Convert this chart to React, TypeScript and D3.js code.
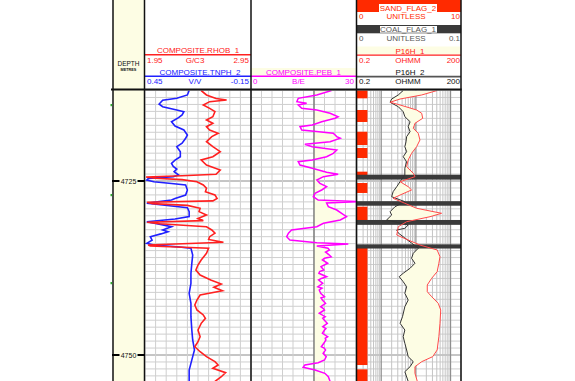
import React from "react";
import * as d3 from "d3";

type P = [number, number];

// depth (m), value
const rhob: P[] = [[4712.0,2.48],[4712.64,2.53],[4713.15,2.62],[4713.36,2.72],[4713.6,2.56],[4714.08,2.5],[4714.56,2.56],[4715.04,2.61],[4715.76,2.59],[4716.24,2.53],[4716.71,2.59],[4717.2,2.53],[4717.67,2.56],[4718.15,2.64],[4718.63,2.58],[4719.35,2.53],[4720.07,2.59],[4720.79,2.66],[4721.51,2.59],[4721.98,2.48],[4722.7,2.53],[4723.42,2.66],[4724.04,2.62],[4724.25,2.3],[4724.43,1.96],[4724.6,2.05],[4724.8,2.3],[4725.1,2.44],[4725.57,2.5],[4726.05,2.53],[4726.53,2.52],[4727.01,2.61],[4727.5,2.63],[4727.85,2.59],[4728.06,1.97],[4728.25,2.02],[4728.5,2.35],[4728.92,2.47],[4729.4,2.46],[4729.89,2.53],[4730.4,2.45],[4730.7,2.5],[4730.93,1.97],[4731.15,2.09],[4731.57,2.53],[4732.04,2.58],[4732.5,2.61],[4733.0,2.56],[4733.4,2.55],[4733.8,2.69],[4734.2,1.98],[4734.34,2.0],[4734.67,2.55],[4735.39,2.53],[4736.35,2.48],[4737.07,2.45],[4737.79,2.43],[4738.51,2.47],[4739.22,2.57],[4739.8,2.67],[4740.27,2.6],[4740.76,2.68],[4741.38,2.47],[4742.1,2.44],[4742.82,2.42],[4743.53,2.44],[4744.25,2.5],[4744.73,2.52],[4745.45,2.48],[4746.41,2.45],[4747.37,2.47],[4748.09,2.45],[4748.81,2.42],[4749.53,2.47],[4750.24,2.53],[4750.96,2.61],[4751.44,2.64],[4751.92,2.59],[4752.54,2.71],[4753.12,2.67],[4753.8,2.61]];

const tnph: P[] = [[4712.0,0.2],[4712.64,0.21],[4713.12,0.27],[4713.4,0.35],[4713.94,0.37],[4714.32,0.35],[4714.8,0.27],[4715.04,0.23],[4715.5,0.24],[4715.9,0.26],[4716.48,0.3],[4717.1,0.28],[4717.67,0.23],[4718.39,0.21],[4718.87,0.22],[4719.58,0.24],[4720.07,0.27],[4720.79,0.25],[4721.51,0.25],[4722.0,0.28],[4722.46,0.3],[4722.9,0.29],[4723.3,0.27],[4723.66,0.285],[4724.14,0.26],[4724.38,0.29],[4724.62,0.43],[4724.86,0.44],[4725.1,0.4],[4725.35,0.3],[4725.57,0.22],[4726.29,0.21],[4727.01,0.22],[4727.5,0.28],[4727.73,0.3],[4727.97,0.38],[4728.2,0.44],[4728.45,0.35],[4728.83,0.21],[4729.4,0.2],[4730.1,0.2],[4730.45,0.28],[4730.85,0.44],[4731.2,0.37],[4731.57,0.3],[4732.04,0.35],[4732.3,0.32],[4732.6,0.36],[4733.0,0.42],[4733.5,0.41],[4733.95,0.44],[4734.2,0.4],[4734.44,0.27],[4734.67,0.19],[4735.63,0.18],[4736.83,0.185],[4738.27,0.19],[4739.7,0.19],[4741.14,0.2],[4742.58,0.19],[4744.49,0.19],[4746.41,0.185],[4747.84,0.18],[4749.28,0.17],[4750.24,0.18],[4751.2,0.19],[4752.16,0.2],[4753.11,0.2],[4753.8,0.2]];

const pef: P[] = [[4712.0,23.0],[4712.64,18.8],[4713.12,13.5],[4713.61,13.1],[4713.84,15.9],[4714.08,13.5],[4714.55,14.5],[4714.8,18.8],[4715.27,22.6],[4715.76,24.9],[4715.99,24.0],[4716.48,20.2],[4716.95,17.5],[4717.2,14.0],[4717.67,14.5],[4718.15,23.5],[4718.63,24.5],[4718.86,25.5],[4719.35,22.6],[4719.73,15.4],[4720.07,17.5],[4720.55,24.5],[4721.02,23.5],[4721.51,21.6],[4721.98,17.5],[4722.23,13.5],[4722.7,14.0],[4723.18,17.5],[4723.75,21.6],[4724.04,24.9],[4724.38,20.7],[4724.86,18.8],[4725.33,19.7],[4725.82,21.6],[4726.29,20.2],[4726.77,18.3],[4727.26,17.8],[4727.73,19.2],[4727.97,31],[4728.16,21.6],[4728.69,22.1],[4729.17,24.5],[4729.64,25.9],[4730.13,27.3],[4730.6,25.5],[4731.08,20.7],[4731.57,18.8],[4732.04,11.6],[4732.51,10.7],[4733.0,10.2],[4733.48,11.1],[4733.86,18.8],[4734.05,27.8],[4734.34,18.8],[4734.67,22.0],[4734.91,22.4],[4735.2,21.3],[4735.39,21.8],[4735.88,22.9],[4736.1,21.0],[4736.35,20.4],[4736.82,21.9],[4737.0,21.2],[4737.31,20.0],[4737.79,20.8],[4738.0,19.6],[4738.26,19.4],[4738.75,21.6],[4739.0,20.1],[4739.22,19.3],[4739.7,20.5],[4740.19,19.1],[4740.4,20.3],[4740.66,19.5],[4741.14,19.9],[4741.62,21.0],[4741.8,20.0],[4742.1,20.4],[4742.57,21.3],[4743.06,19.9],[4743.3,20.6],[4743.53,21.0],[4744.01,19.5],[4744.5,21.2],[4744.7,20.5],[4744.97,20.9],[4745.45,21.8],[4745.93,20.5],[4746.2,21.4],[4746.41,21.0],[4746.88,20.4],[4747.37,21.9],[4747.6,21.2],[4747.84,21.4],[4748.32,20.8],[4748.81,20.1],[4749.0,20.9],[4749.28,21.3],[4749.76,20.6],[4750.24,21.5],[4750.72,21.0],[4751.1,19.2],[4751.44,15.4],[4751.77,14.9],[4752.16,18.3],[4752.63,21.1],[4753.12,22.1],[4753.8,22.6]];
const pefCutoff = 18;

const p16h1: P[] = [[4712.0,41],[4712.64,14.7],[4713.22,3.5],[4713.69,1.8],[4714.08,3.5],[4714.8,10.5],[4715.27,14.7],[4715.99,15.7],[4716.71,9.4],[4717.43,8.4],[4718.15,11.7],[4719.11,13.1],[4720.07,10.5],[4721.02,7.5],[4721.98,6.0],[4722.95,5.4],[4723.89,8.4],[4724.38,9.4],[4725.1,3.5],[4725.82,6.0],[4726.29,7.5],[4727.01,3.5],[4727.49,2.2],[4728.2,4.8],[4728.92,10.5],[4729.64,55],[4730.13,25.5],[4730.85,5.4],[4731.57,3.1],[4732.04,3.0],[4732.76,2.8],[4733.48,6.0],[4734.2,13.1],[4734.91,41],[4735.88,49.5],[4736.82,46],[4738.03,41],[4738.98,28.5],[4739.94,21.3],[4740.91,21.3],[4741.62,28.5],[4742.57,44],[4743.53,52],[4745.45,49.5],[4747.37,46],[4749.28,41],[4750.24,30.5],[4750.96,14.7],[4751.68,9.4],[4752.63,9.4],[4753.8,11]];

const p16h2: P[] = [[4712.0,4.3],[4712.64,3.1],[4713.22,2.0],[4713.69,1.8],[4714.32,3.1],[4715.04,4.3],[4715.76,4.8],[4716.48,6.8],[4717.2,6.0],[4717.92,6.8],[4718.63,5.4],[4719.35,5.2],[4720.07,4.8],[4720.79,5.4],[4721.51,4.3],[4722.23,5.4],[4723.18,4.8],[4724.14,4.8],[4725.1,3.5],[4725.82,2.8],[4726.54,2.2],[4727.26,2.0],[4727.97,4.8],[4728.69,2.5],[4729.41,1.8],[4729.89,2.0],[4730.6,1.43],[4731.32,6.0],[4731.8,4.8],[4732.04,2.8],[4732.47,3.1],[4733.19,4.8],[4733.91,7.5],[4734.67,11.7],[4735.39,8.4],[4736.11,7.5],[4736.82,9.4],[4737.54,6.8],[4738.26,4.3],[4738.75,3.3],[4739.47,4.3],[4740.19,5.4],[4741.14,4.8],[4742.1,6.0],[4743.06,4.8],[4744.5,4.1],[4745.45,3.5],[4746.41,4.8],[4747.37,4.3],[4748.32,4.8],[4749.28,5.4],[4750.24,6.0],[4750.96,8.4],[4751.68,6.8],[4752.4,4.8],[4753.8,6.0]];

// flag intervals [top, base, value]
const sandFlag: [number, number, number][] = [[4711.5,4713.12,1],[4714.8,4716.52,1],[4717.92,4719.83,1],[4720.26,4721.7,1],[4723.66,4724.24,1],[4725.29,4726.72,1],[4728.69,4730.9,1],[4734.48,4751.44,1],[4752.06,4754.5,1]];
const coalFlag: [number, number, number][] = [[4724.1,4724.8,1],[4727.9,4728.55,1],[4730.6,4731.3,1],[4734.1,4734.7,1]];

const depthLabels = [4725, 4750];
const markerDepths = [4714.08, 4727.01, 4739.66];

const FONT = "'Liberation Sans', Arial, sans-serif";
const RED = "#ff2020";
const BLUE = "#2020ff";
const MAG = "#ff00ff";
const CREAM = "#fdfde4";
const SANDC = "#ff2a00";
const COALC = "#3a3a3a";

export default function App() {
  const top = 90.5, bottom = 381;
  const yS = d3.scaleLinear().domain([4725, 4750]).range([181, 355]);
  const T1: [number, number] = [145, 251];
  const T2: [number, number] = [251, 356];
  const T3: [number, number] = [357, 461];
  const xRhob = d3.scaleLinear().domain([1.95, 2.95]).range(T1);
  const xTnph = d3.scaleLinear().domain([0.45, -0.15]).range(T1);
  const xPef = d3.scaleLinear().domain([0, 30]).range(T2);
  const xRes = d3.scaleLog().domain([0.2, 200]).range(T3);
  const xSand = d3.scaleLinear().domain([0, 10]).range(T3);
  const xCoal = d3.scaleLinear().domain([0, 0.1]).range(T3).clamp(true);

  const dMin = yS.invert(top), dMax = yS.invert(bottom);
  const gridDepths = d3.range(Math.ceil(dMin), Math.floor(dMax) + 1);

  const mkLine = (xs: (v: number) => number) =>
    d3.line<P>().x(d => xs(d[1])).y(d => yS(d[0]));

  const pefFill = d3.area<P>().y(d => yS(d[0])).x0(T2[0]).x1(d => xPef(d[1]))(pef) || "";
  const blackRight = d3.area<P>().y(d => yS(d[0])).x0(d => xRes(d[1])).x1(T3[1])(p16h2) || "";
  const redFill = d3.area<P>().y(d => yS(d[0])).x0(T3[0]).x1(d => xRes(d[1]))(p16h1) || "";

  const t1Ticks = d3.range(0, 11).map(i => 1.95 + i * 0.1);
  const t2Ticks = d3.range(0, 31, 3);
  const t3Ticks = xRes.ticks();

  const txt = (x: number, y: number, s: string, fill: string, anchor: string = "middle", size = 8) => (
    <text x={x} y={y} fill={fill} fontSize={size} fontFamily={FONT} textAnchor={anchor as any}>{s}</text>
  );

  const c1 = (T1[0] + T1[1]) / 2, c2 = (T2[0] + T2[1]) / 2, c3 = (T3[0] + T3[1]) / 2;

  return (
    <svg width={575} height={381} style={{ position: "absolute", left: 0, top: 0, background: "#fff" }}>
      <defs>
        <clipPath id="ct1"><rect x={T1[0]} y={top} width={T1[1] - T1[0]} height={bottom - top} /></clipPath>
        <clipPath id="ct2"><rect x={T2[0]} y={top} width={T2[1] - T2[0]} height={bottom - top} /></clipPath>
        <clipPath id="ct3"><rect x={T3[0]} y={top} width={T3[1] - T3[0]} height={bottom - top} /></clipPath>
        <clipPath id="cPefCut"><rect x={xPef(pefCutoff)} y={top} width={T2[1] - xPef(pefCutoff)} height={bottom - top} /></clipPath>
        <clipPath id="cBlackRight"><path d={blackRight} /></clipPath>
      </defs>
      <rect x={0} y={0} width={575} height={381} fill="#fff" />
      {/* depth track */}
      <rect x={113} y={0} width={31.5} height={381} fill={CREAM} />

      {/* ===== header ===== */}
      {txt(c1, 53, "COMPOSITE.RHOB_1", RED)}
      <line x1={T1[0]} x2={T1[1]} y1={54.8} y2={54.8} stroke={RED} strokeWidth={1.5} />
      {txt(T1[0] + 2, 63, "1.95", RED, "start")}
      {txt(c1 - 3, 63, "G/C3", RED)}
      {txt(T1[1] - 2, 63, "2.95", RED, "end")}
      {txt(c1 + 2, 74.5, "COMPOSITE.TNPH_2", BLUE)}
      <line x1={T1[0]} x2={T1[1]} y1={76.3} y2={76.3} stroke={BLUE} strokeWidth={1.5} />
      {txt(T1[0] + 2, 84, "0.45", BLUE, "start")}
      {txt(c1 - 3, 84, "V/V", BLUE)}
      {txt(T1[1] - 2, 84, "-0.15", BLUE, "end")}

      <rect x={T2[0]} y={68} width={T2[1] - T2[0]} height={8} fill={CREAM} />
      {txt(c2, 74.5, "COMPOSITE.PEB_1", MAG)}
      <line x1={T2[0]} x2={T2[1]} y1={76.3} y2={76.3} stroke={MAG} strokeWidth={1.5} />
      {txt(T2[0] + 2, 84, "0", MAG, "start")}
      {txt(c2 - 5, 84, "B/E", MAG)}
      {txt(T2[1] - 2, 84, "30", MAG, "end")}

      <rect x={T3[0]} y={0} width={T3[1] - T3[0]} height={12} fill={SANDC} />
      <rect x={379} y={4} width={58} height={8} fill="#fff" />
      {txt(408, 10.8, "SAND_FLAG_2", SANDC)}
      {txt(T3[0] + 2, 19, "0", SANDC, "start")}
      {txt(c3 - 3, 19, "UNITLESS", SANDC)}
      {txt(T3[1] - 1, 19, "10", SANDC, "end")}
      <rect x={T3[0]} y={25} width={T3[1] - T3[0]} height={8.3} fill={COALC} />
      <rect x={380} y={26} width={57} height={6.7} fill="#fff" />
      {txt(408, 32.3, "COAL_FLAG_1", "#555")}
      {txt(T3[0] + 2, 41, "0", "#555", "start")}
      {txt(c3 - 3, 41, "UNITLESS", "#555")}
      {txt(T3[1] - 1, 41, "0.1", "#555", "end")}
      <rect x={T3[0]} y={46.5} width={T3[1] - T3[0]} height={8} fill={CREAM} />
      {txt(c3 + 1, 53.5, "P16H_1", RED)}
      <line x1={T3[0]} x2={T3[1]} y1={55.2} y2={55.2} stroke={RED} strokeWidth={1.2} />
      {txt(T3[0] + 2, 63, "0.2", RED, "start")}
      {txt(c3 - 1, 63, "OHMM", RED)}
      {txt(T3[1] - 1, 63, "200", RED, "end")}
      {txt(c3 + 1, 74.8, "P16H_2", "#111")}
      <line x1={T3[0]} x2={T3[1]} y1={76.6} y2={76.6} stroke="#555" strokeWidth={1.6} />
      {txt(T3[0] + 2, 84, "0.2", "#111", "start")}
      {txt(c3 - 1, 84, "OHMM", "#111")}
      {txt(T3[1] - 1, 84, "200", "#111", "end")}

      <text x={128.5} y={66} fontSize={6.5} fontFamily={FONT} textAnchor="middle" fill="#111">DEPTH</text>
      <text x={128.5} y={70.5} fontSize={3.8} fontWeight="bold" fontFamily={FONT} textAnchor="middle" fill="#111">METRES</text>

      {/* ===== grids ===== */}
      <g>
        {[T1, T2, T3].map((T, ti) =>
          gridDepths.map(d => (
            <line key={`h${ti}-${d}`} x1={T[0]} x2={T[1]} y1={yS(d)} y2={yS(d)}
              stroke={d % 25 === 0 ? "#8c8c8c" : "#cfcfcf"} strokeWidth={1} />
          ))
        )}
        {t1Ticks.map((v, i) => (
          <line key={`v1-${i}`} x1={xRhob(v)} x2={xRhob(v)} y1={top} y2={bottom} stroke="#cfcfcf" strokeWidth={1} />
        ))}
        {t2Ticks.map((v, i) => (
          <line key={`v2-${i}`} x1={xPef(v)} x2={xPef(v)} y1={top} y2={bottom} stroke="#cfcfcf" strokeWidth={1} />
        ))}
        {t3Ticks.map((v, i) => {
          const dec = Math.abs(Math.log10(v) - Math.round(Math.log10(v))) < 1e-6;
          return <line key={`v3-${i}`} x1={xRes(v)} x2={xRes(v)} y1={top} y2={bottom} stroke={dec ? "#8f8f8f" : "#c4c4c4"} strokeWidth={dec ? 1.2 : 1} />;
        })}
      </g>

      {/* ===== track 2 ===== */}
      <g clipPath="url(#ct2)">
        <g clipPath="url(#cPefCut)">
          <path d={pefFill} fill={CREAM} />
        </g>
        <line x1={xPef(pefCutoff)} x2={xPef(pefCutoff)} y1={top} y2={bottom} stroke="#707070" strokeWidth={1.3} />
        <path d={mkLine(xPef)(pef) || ""} fill="none" stroke={MAG} strokeWidth={1.5} />
      </g>

      {/* ===== track 3 ===== */}
      <g clipPath="url(#ct3)">
        <g clipPath="url(#cBlackRight)">
          <path d={redFill} fill={CREAM} />
        </g>
        {sandFlag.map((s, i) => (
          <rect key={`s${i}`} x={xSand(0)} y={yS(s[0])} width={xSand(s[2]) - xSand(0)} height={yS(s[1]) - yS(s[0])} fill={SANDC} />
        ))}
        {coalFlag.map((s, i) => (
          <rect key={`c${i}`} x={xCoal(0)} y={yS(s[0])} width={xCoal(s[2]) - xCoal(0)} height={yS(s[1]) - yS(s[0])} fill={COALC} />
        ))}
        <path d={mkLine(xRes)(p16h2) || ""} fill="none" stroke="#333" strokeWidth={1} />
        <path d={mkLine(xRes)(p16h1) || ""} fill="none" stroke="#ff4a4a" strokeWidth={1} />
      </g>

      {/* ===== track 1 ===== */}
      <g clipPath="url(#ct1)">
        <path d={mkLine(xTnph)(tnph) || ""} fill="none" stroke={BLUE} strokeWidth={1.6} />
        <path d={mkLine(xRhob)(rhob) || ""} fill="none" stroke={RED} strokeWidth={1.6} />
      </g>

      {/* borders */}
      {[113, 144.5, 251, 356.5, 461].map((x, i) => (
        <line key={`b${i}`} x1={x} x2={x} y1={0} y2={381} stroke="#111" strokeWidth={1.5} />
      ))}
      <line x1={111} x2={461.7} y1={89.5} y2={89.5} stroke="#111" strokeWidth={2} />

      {/* depth labels */}
      {depthLabels.map(d => (
        <g key={`dl${d}`}>
          <line x1={112} x2={119.5} y1={yS(d)} y2={yS(d)} stroke="#000" strokeWidth={2} />
          <line x1={137.5} x2={145} y1={yS(d)} y2={yS(d)} stroke="#000" strokeWidth={2} />
          <text x={128.5} y={yS(d) + 2.6} fontSize={7} fontFamily={FONT} textAnchor="middle" fill="#111">{d}</text>
        </g>
      ))}
      {markerDepths.map((d, i) => (
        <rect key={`m${i}`} x={110.5} y={yS(d) - 1} width={1.6} height={2.2} fill="#2fae2f" />
      ))}
    </svg>
  );
}
